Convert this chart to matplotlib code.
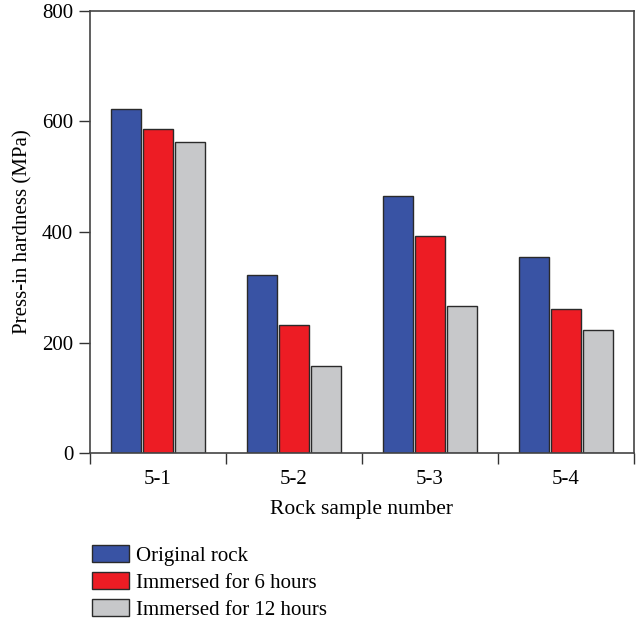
import numpy as np
import matplotlib.pyplot as plt
from matplotlib.patches import Patch

plt.rcParams['font.family'] = ['Liberation Serif', 'DejaVu Serif']

samples = ['5-1', '5-2', '5-3', '5-4']
original = [623, 322, 465, 355]
six_hours = [586, 232, 393, 260]
twelve_hours = [562, 157, 266, 222]
series_names = ['Original rock', 'Immersed for 6 hours', 'Immersed for 12 hours']
colors = ['#3953a4', '#ed1c24', '#c7c8ca']

fig = plt.figure(figsize=(6.4, 6.24), dpi=100)
ax = fig.add_axes([0.1406, 0.2736, 0.85, 0.7094])

x = np.arange(len(samples)) + 0.5
w = 0.217
step = 0.235
for i, vals in enumerate([original, six_hours, twelve_hours]):
    ax.bar(x + (i - 1) * step, vals, width=w, color=colors[i],
           edgecolor='#2a2a2a', linewidth=1.0, zorder=2)

ax.set_xlim(0, 4)
ax.set_ylim(0, 800)
ax.set_yticks([0, 200, 400, 600, 800])
ax.set_xticks([0, 1, 2, 3, 4])
ax.set_xticklabels([])
ax.set_xticks(x, minor=True)
ax.set_xticklabels(samples, minor=True)
ax.tick_params(axis='x', which='minor', length=0, pad=12, labelsize=15)
ax.tick_params(axis='x', which='major', length=8, width=1.0, color='#333333')
ax.tick_params(axis='y', length=8, width=1.0, color='#333333', labelsize=15, pad=4)
for s in ax.spines.values():
    s.set_color('#444444')
    s.set_linewidth(1.2)

ax.set_xlabel('Rock sample number', fontsize=15.5, labelpad=8)
ax.set_ylabel('Press-in hardness (MPa)', fontsize=15, labelpad=7)

handles = [Patch(facecolor=c, edgecolor='#2a2a2a', linewidth=1.0) for c in colors]
fig.legend(handles, series_names, loc='upper left', bbox_to_anchor=(0.131, 0.14),
           frameon=False, fontsize=15, handlelength=1.75, handleheight=0.9,
           handletextpad=0.35, labelspacing=0.3, borderaxespad=0)

fig.savefig('out.png', dpi=100)
